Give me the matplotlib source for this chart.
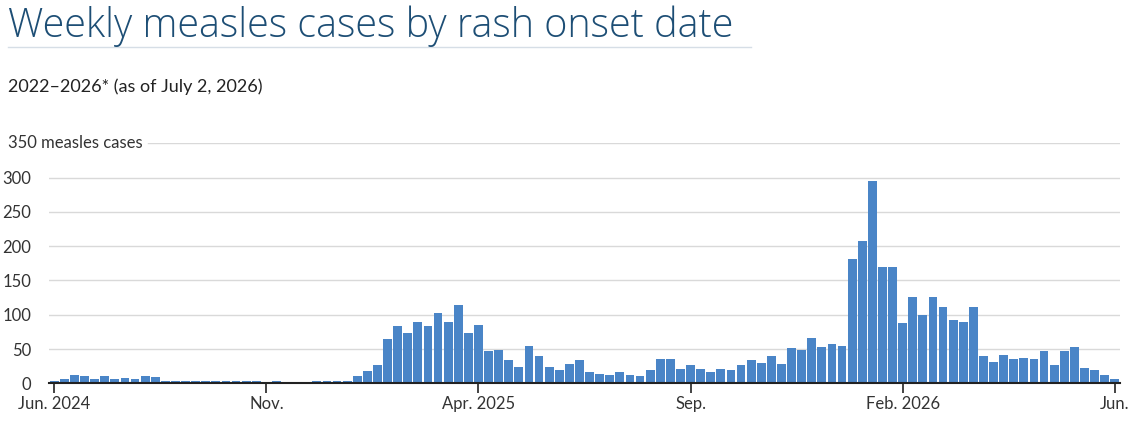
import matplotlib.pyplot as plt
import matplotlib.transforms as mtransforms
from matplotlib.lines import Line2D
import numpy as np

# weekly cases, Jun. 2024 -> Jun. 2026
cases = [3, 6, 12, 10, 6, 11, 6, 8, 7, 10, 9,
         3, 3, 3, 3, 3, 3, 3, 3, 3, 3,
         0, 3, 0, 0, 0, 3, 3, 3, 3, 10, 18, 26,
         64, 84, 74, 89, 83, 102, 90, 114, 73, 85, 47, 48, 34, 24, 54, 40,
         24, 20, 28, 34, 17, 14, 12, 16, 12, 10, 20, 36, 35, 21, 27, 21,
         16, 21, 20, 26,
         34, 30, 40, 28, 52, 48, 66, 53, 58, 55, 181, 208, 295, 170, 169,
         88, 126, 99, 126, 112, 93, 90, 112, 40, 31, 41, 36, 37, 36, 47,
         27, 47, 53, 23, 19, 12, 7]
tick_weeks = [0, 21, 42, 63, 84, 105]
tick_labels = ['Jun. 2024', 'Nov.', 'Apr. 2025', 'Sep.', 'Feb. 2026', 'Jun.']
y_ticks = [0, 50, 100, 150, 200, 250, 300]

W, H = 1134, 421
fig = plt.figure(figsize=(W / 100, H / 100), dpi=100)
plt.rcParams['font.family'] = ['Lato', 'DejaVu Sans']

# axes placed in pixels
left, right, bottom, top = 49.2, 1119.8, H - 383.3, H - 143.3
ax = fig.add_axes([left / W, bottom / H, (right - left) / W, (top - bottom) / H])

weeks = np.arange(len(cases))
ax.bar(weeks, cases, width=0.88, color='#4a85c7', zorder=3)

ax.set_xlim(-0.5, len(cases) - 0.5)
ax.set_ylim(0, 350)

for v in y_ticks[1:]:
    ax.axhline(v, color='#d9d9d9', lw=1, zorder=1)
ax.axhline(350, xmin=0.092, color='#d9d9d9', lw=1, zorder=1)

ax.set_yticks(y_ticks)
ax.set_yticklabels([str(v) for v in y_ticks], fontsize=12, color='#333333')
ax.tick_params(axis='y', length=0, pad=13)

ax.set_xticks(tick_weeks)
ax.set_xticklabels(tick_labels, fontsize=12, color='#333333')
ax.tick_params(axis='x', length=7, width=1.2, color='#222222', pad=2)

for s in ['top', 'right', 'left']:
    ax.spines[s].set_visible(False)
ax.spines['bottom'].set_color('#222222')
ax.spines['bottom'].set_linewidth(1.5)
ax.spines['bottom'].set_zorder(4)

trans = mtransforms.blended_transform_factory(fig.transFigure, ax.transData)
ax.text(8 / W, 350, '350 measles cases', transform=trans, fontsize=12,
        color='#333333', ha='left', va='center')

fig.text(8 / W, 1 - 37 / H, 'Weekly measles cases by rash onset date',
         family=['Open Sans', 'DejaVu Sans'], fontsize=28.5, fontweight='light',
         color='#1d4e75', va='baseline')
fig.add_artist(Line2D([8 / W, 751 / W], [1 - 46.5 / H] * 2,
                      transform=fig.transFigure, color='#d6dee6', lw=1))
fig.text(8 / W, 1 - 92 / H, '2022\u20132026* (as of July 2, 2026)',
         fontsize=13.0, color='#222222', va='baseline')

fig.savefig('out.png', dpi=100)
